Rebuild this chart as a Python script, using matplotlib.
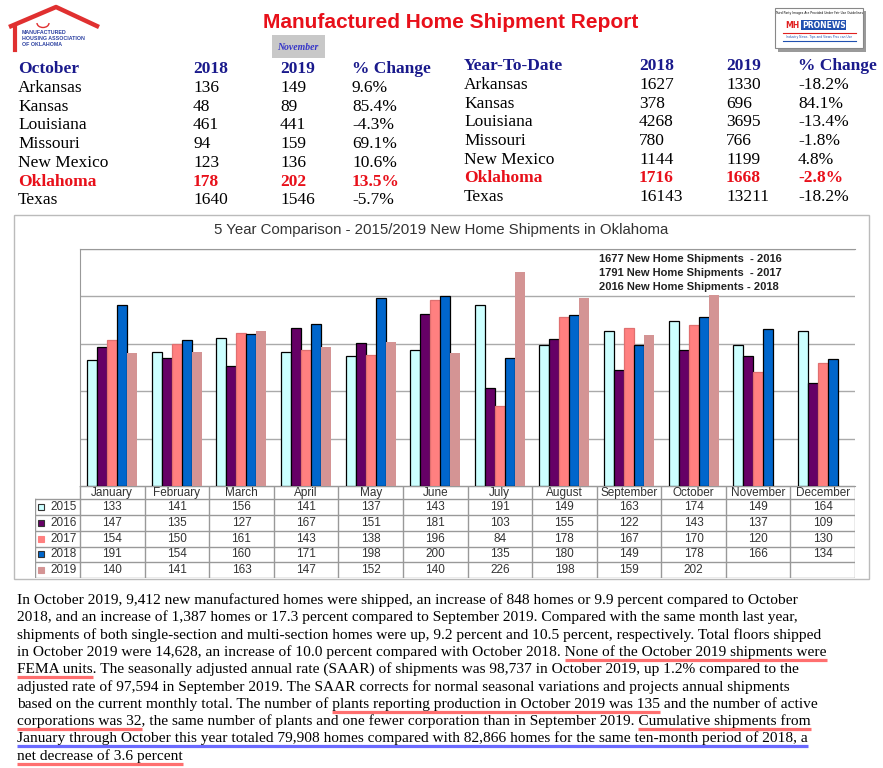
import numpy as np
import matplotlib
matplotlib.use("Agg")
import matplotlib.pyplot as plt
from matplotlib.patches import Rectangle, Arc

W, H = 883, 768

# chart data (Oklahoma new home shipments)
months = ["January", "February", "March", "April", "May", "June", "July",
          "August", "September", "October", "November", "December"]
years = ["2015", "2016", "2017", "2018", "2019"]
ship_2015 = [133, 141, 156, 141, 137, 143, 191, 149, 163, 174, 149, 164]
ship_2016 = [147, 135, 127, 167, 151, 181, 103, 155, 122, 143, 137, 109]
ship_2017 = [154, 150, 161, 143, 138, 196, 84, 178, 167, 170, 120, 130]
ship_2018 = [191, 154, 160, 171, 198, 200, 135, 180, 149, 178, 166, 134]
ship_2019 = [140, 141, 163, 147, 152, 140, 226, 198, 159, 202]
totals_note = ["1677 New Home Shipments  - 2016",
               "1791 New Home Shipments  - 2017",
               "2016 New Home Shipments - 2018"]

# state tables
states = ["Arkansas", "Kansas", "Louisiana", "Missouri", "New Mexico", "Oklahoma", "Texas"]
oct_2018 = [136, 48, 461, 94, 123, 178, 1640]
oct_2019 = [149, 89, 441, 159, 136, 202, 1546]
oct_change = ["9.6%", "85.4%", "-4.3%", "69.1%", "10.6%", "13.5%", "-5.7%"]
ytd_2018 = [1627, 378, 4268, 780, 1144, 1716, 16143]
ytd_2019 = [1330, 696, 3695, 766, 1199, 1668, 13211]
ytd_change = ["-18.2%", "84.1%", "-13.4%", "-1.8%", "4.8%", "-2.8%", "-18.2%"]

para = [
    "In October 2019, 9,412 new manufactured homes were shipped, an increase of 848 homes or 9.9 percent compared to October",
    "2018, and an increase of 1,387 homes or 17.3 percent compared to September 2019. Compared with the same month last year,",
    "shipments of both single-section and multi-section homes were up, 9.2 percent and 10.5 percent, respectively. Total floors shipped",
    "in October 2019 were 14,628, an increase of 10.0 percent compared with October 2018. None of the October 2019 shipments were",
    "FEMA units. The seasonally adjusted annual rate (SAAR) of shipments was 98,737 in October 2019, up 1.2% compared to the",
    "adjusted rate of 97,594 in September 2019. The SAAR corrects for normal seasonal variations and projects annual shipments",
    "based on the current monthly total. The number of plants reporting production in October 2019 was 135 and the number of active",
    "corporations was 32, the same number of plants and one fewer corporation than in September 2019. Cumulative shipments from",
    "January through October this year totaled 79,908 homes compared with 82,866 homes for the same ten-month period of 2018, a",
    "net decrease of 3.6 percent",
]
# (line, phrase, colour)
underlines = [
    (3, "None of the October 2019 shipments were", "#FF6F6F"),
    (4, "FEMA units", "#FF6F6F"),
    (6, "plants reporting production in October 2019 was 135", "#FF6F6F"),
    (7, "corporations was 32", "#FF6F6F"),
    (7, "Cumulative shipments from", "#FF6F6F"),
    (8, para[8], "#6B6BFF"),
    (9, "net decrease of 3.6 percent", "#FF6F6F"),
]

bar_colors = ["#CCFFFF", "#660066", "#FF8080", "#0066CC", "#D49494"]
bar_edges = ["#000000", "#000000", "#E07070", "#000000", "none"]
navy = "#1A1A8C"
red = "#E8101A"

fig = plt.figure(figsize=(W / 100, H / 100), dpi=100)


def px_axes(l, t, r, b):
    return fig.add_axes([l / W, 1 - b / H, (r - l) / W, (b - t) / H])


deco = fig.add_axes([0, 0, 1, 1])
deco.set_xlim(0, W)
deco.set_ylim(H, 0)
deco.axis("off")

# logo left
deco.plot([9, 56, 99], [27, 7, 27], color="#E03030", lw=3.2, solid_capstyle="butt")
deco.plot([15, 15], [27, 50], color="#E03030", lw=3)
deco.add_patch(Arc((43, 23), 12, 9, theta1=0, theta2=180, color="#E03030", lw=1))
for k, s in enumerate(["MANUFACTURED", "HOUSING ASSOCIATION", "OF OKLAHOMA"]):
    deco.text(22, 32 + 6 * k, s, fontsize=3.8, fontweight="bold", color="#2A3FA0",
              va="center", family="Liberation Sans")

# logo right
deco.add_patch(Rectangle((778, 11), 88, 41, fc="#9A9A9A", ec="none"))
deco.add_patch(Rectangle((775, 8), 88, 40, fc="white", ec="#888888", lw=0.8))
deco.text(819, 13, "Third Party Images Are Provided Under Fair Use Guidelines",
          fontsize=2.2, ha="center", va="center")
deco.text(799, 25, "MH", fontsize=5.5, fontweight="bold", color="#E02020", ha="right", va="center")
deco.text(802, 25, "PRONEWS", fontsize=5.5, fontweight="bold", color="white", ha="left", va="center",
          bbox=dict(boxstyle="square,pad=0.1", fc="#2050B0", ec="none"))
deco.plot([783, 856], [33, 33], color="#E02020", lw=0.8)
deco.text(819, 37, "Industry News, Tips and Views Pros can Use", fontsize=2.2,
          ha="center", va="center", color="#2050B0")
deco.plot([783, 856], [41, 41], color="#2050B0", lw=0.8)

# title
deco.text(451, 23, "Manufactured Home Shipment Report", fontsize=15, fontweight="bold",
          color=red, ha="center", va="center", family="Liberation Sans")
deco.add_patch(Rectangle((272, 35), 53, 23, fc="#C8C8C8", ec="none"))
deco.text(298, 47, "November", fontsize=7, style="italic", fontweight="bold", color="#3535C8",
          ha="center", va="center", family="Liberation Serif")


def state_table(x_cols, y_head, head, c18, c19, chg):
    for x, s in zip(x_cols, [head, "2018", "2019", "% Change"]):
        deco.text(x, y_head, s, fontsize=12.5, fontweight="bold", color=navy,
                  va="center", family="Liberation Serif")
    for i, st in enumerate(states):
        y = y_head + 19 + 18.7 * i
        okla = st == "Oklahoma"
        kw = dict(fontsize=12.5, va="center", family="Liberation Serif",
                  color=red if okla else "black", fontweight="bold" if okla else "normal")
        for x, s in zip(x_cols, [st, str(c18[i]), str(c19[i]), chg[i]]):
            deco.text(x, y, s, **kw)


state_table([18, 193, 280, 352], 69, "October", oct_2018, oct_2019, oct_change)
state_table([464, 639, 726, 798], 66, "Year-To-Date", ytd_2018, ytd_2019, ytd_change)

# chart frame and title
deco.add_patch(Rectangle((14, 215), 855, 364, fill=False, ec="#BBBBBB", lw=1))
deco.text(441, 230, "5 Year Comparison - 2015/2019 New Home Shipments in Oklahoma",
          fontsize=10.8, color="#333333", ha="center", va="center", family="Liberation Sans")

ax = px_axes(80, 249, 855, 486)
ax.set_facecolor("none")
series = [ship_2015, ship_2016, ship_2017, ship_2018, ship_2019]
bw = 0.155
for i, vals in enumerate(series):
    x = np.arange(len(vals)) + (i - 2) * bw
    ax.bar(x, vals, bw, color=bar_colors[i], edgecolor=bar_edges[i], linewidth=0.9, zorder=3)
ax.set_xlim(-0.5, 11.5)
ax.set_ylim(0, 250)
ax.set_yticks([0, 50, 100, 150, 200, 250])
ax.yaxis.grid(True, color="#AAAAAA", lw=1)
ax.set_axisbelow(True)
ax.tick_params(left=False, labelleft=False, bottom=False, labelbottom=False)
ax.spines["right"].set_visible(False)
for s in ["top", "left", "bottom"]:
    ax.spines[s].set_color("#999999")

for k, s in enumerate(totals_note):
    deco.text(599, 259 + 14 * k, s, fontsize=8, fontweight="bold", color="#222222",
              va="center", family="Liberation Sans")

# data table under chart
tab = px_axes(35, 486, 855, 578)
xl = -0.5 - 45 / 64.58
tab.set_xlim(xl, 11.5)
tab.set_ylim(5.85, 0)
tab.axis("off")
gc = "#999999"
tab.plot([-0.5, 11.5], [0, 0], color=gc, lw=1)
for r in range(6):
    tab.plot([xl, 11.5], [0.85 + r, 0.85 + r], color=gc, lw=1)
for c in range(13):
    tab.plot([c - 0.5, c - 0.5], [0, 5.85], color=gc, lw=1)
tab.plot([xl, xl], [0.85, 5.85], color=gc, lw=1)
tkw = dict(fontsize=8.5, color="#333333", ha="center", va="center", family="Liberation Sans")
for j, m in enumerate(months):
    tab.text(j, 0.45, m, **tkw)
for i, vals in enumerate(series):
    yy = 0.85 + i + 0.5
    for j, v in enumerate(vals):
        tab.text(j, yy, str(v), **tkw)
    tab.plot([xl + 0.1], [yy], marker="s", ms=4.5, color=bar_colors[i],
             mec="#333333" if bar_edges[i] == "#000000" else bar_colors[i], mew=0.8)
    tab.text(xl + 0.45, yy, years[i], **tkw)

# paragraph with highlighted phrases
renderer = fig.canvas.get_renderer()
pkw = dict(fontsize=11.1, family="Liberation Serif", color="black", va="baseline")


def tw(s):
    t = deco.text(0, 0, s, **pkw)
    w = t.get_window_extent(renderer).width
    t.remove()
    return w


x0 = 17
for i, line in enumerate(para):
    deco.text(x0, 604 + 17.3 * i, line, **pkw)
for li, phrase, col in underlines:
    line = para[li]
    k = line.index(phrase)
    x_end = x0 + tw(line[:k + len(phrase)])
    x_start = x_end - tw(phrase)
    y = 604 + 17.3 * li + 4
    deco.plot([x_start, x_end], [y, y], color=col, lw=2.3, solid_capstyle="butt")

fig.savefig("out.png", dpi=100)
